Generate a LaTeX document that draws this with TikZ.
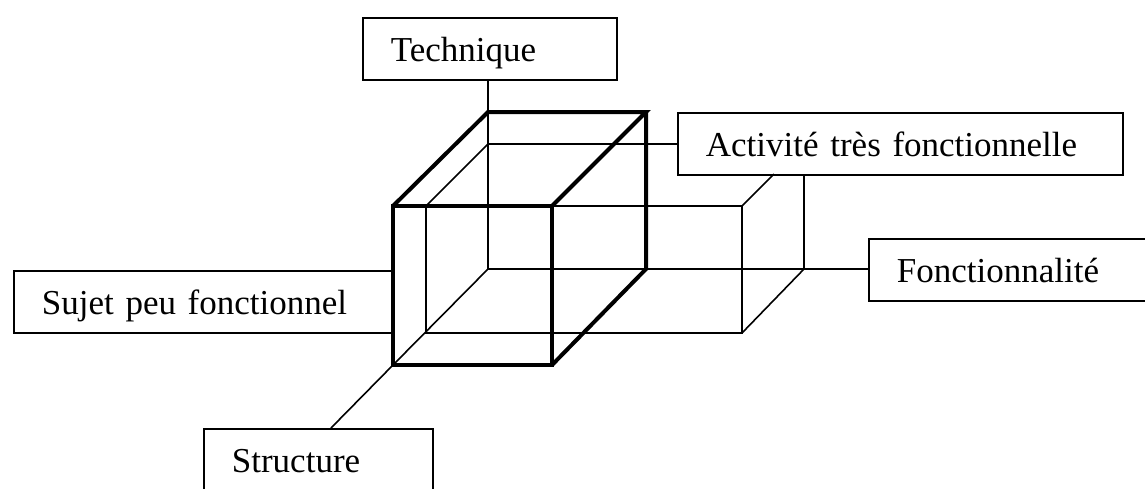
\documentclass[tikz,border=0pt]{standalone}
\usepackage{fontspec}
\setmainfont{Liberation Serif}
\usetikzlibrary{calc}

\tikzset{
  labelbox/.style={draw, line width=1.8pt, anchor=north west,
    inner xsep=28pt, inner ysep=0pt, align=left,
    text height=44pt, text depth=18pt,
    font=\fontsize{35}{42}\selectfont},
  thinedge/.style={line width=1.6pt},
  thickedge/.style={line width=4pt}
}

\begin{document}
\begin{tikzpicture}[x=1pt,y=-1pt]
\useasboundingbox (0,0) rectangle (1145,488);
\clip (0,0) rectangle (1145,488);

% axis labels
\node[labelbox, text width=198pt] (tech) at (362,17) {Technique};
\node[labelbox, text width=389pt] (act)  at (677,112) {Activité très fonctionnelle};
\node[labelbox, text width=280pt] (fonc) at (868,238) {Fonctionnalité};
\node[labelbox, text width=324pt] (suj)  at (13,270) {Sujet peu fonctionnel};
\node[labelbox, text width=173pt, text depth=40pt] (struc) at (203,428) {Structure};

% corners of the bold cube
\coordinate (F1) at (393,206); \coordinate (F2) at (552,206);
\coordinate (F3) at (552,365); \coordinate (F4) at (393,365);
\coordinate (B1) at (488,112); \coordinate (B2) at (646,112);
\coordinate (B3) at (646,269); \coordinate (B4) at (488,269);

% corners of the light box
\coordinate (P1) at (426,206); \coordinate (P2) at (742,206);
\coordinate (P3) at (742,333); \coordinate (P4) at (426,333);
\coordinate (Q1) at (488,144); \coordinate (Q2) at (804,144);
\coordinate (Q3) at (804,269);
\coordinate (S)  at (331,428);

% light box and axes
\draw[thinedge] (tech.south -| B1) -- (B4);
\draw[thinedge] (Q1) -- (Q1 -| act.west);
\draw[thinedge] (Q1) -- (P1) -- (P4) -- (P3) -- (P2) -- (F2);
\draw[thinedge] (P2) -- ($(P2)!0.516!(Q2)$);
\draw[thinedge] (Q3 |- act.south) -- (Q3) -- (P3);
\draw[thinedge] (B4) -- (Q3) -- (Q3 -| fonc.west);
\draw[thinedge] (B4) -- (F4) -- (S);

% bold cube
\draw[thickedge] (F1) -- (F2) -- (F3) -- (F4) -- cycle;
\draw[thickedge] (F1) -- (B1) -- (B2) -- (F2);
\draw[thickedge] (B2) -- (B3) -- (F3);
\end{tikzpicture}
\end{document}
